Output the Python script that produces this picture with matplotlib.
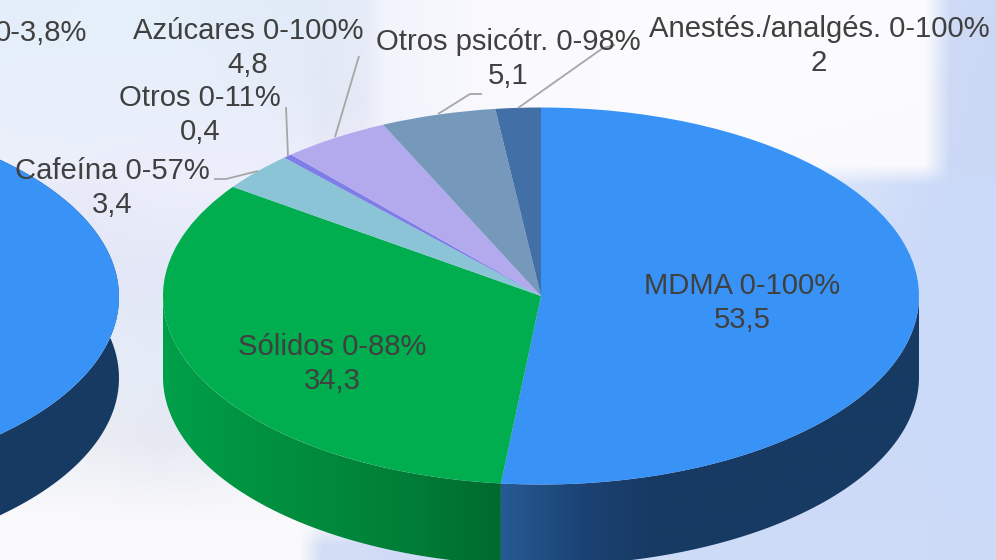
import numpy as np
import matplotlib
matplotlib.use('Agg')
import matplotlib.pyplot as plt
from matplotlib.colors import LinearSegmentedColormap, to_rgb
from matplotlib.patches import Polygon
from matplotlib.transforms import Affine2D

plt.rcParams['font.family'] = ['Liberation Sans', 'DejaVu Sans']

names = ['MDMA', 'Sólidos', 'Cafeína', 'Otros', 'Azúcares', 'Otros psicótr.', 'Anestés./analgés.']
ranges = ['0-100%', '0-88%', '0-57%', '0-11%', '0-100%', '0-98%', '0-100%']
values = [53.5, 34.3, 3.4, 0.4, 4.8, 5.1, 2]
colors = ['#3993f7', '#00ae4f', '#8ac4d6', '#7f7ee8', '#b3aaee', '#7598bb', '#4270a6']
left_values = [100]
left_colors = ['#3993f7']
left_label = '0-3,8%'

# label centres and leader lines, in pixels
label_xy = [(742, 303), (332, 364), (112, 188), (200, 115), (248, 48), (508, 59), (819, 46)]
leaders = [
    [(214, 179), (226, 179), (258, 171)],
    [(286, 107), (288, 156)],
    [(359, 56), (335, 137)],
    [(482, 94), (470, 94), (438, 114)],
    [(615, 45), (603, 48), (518, 108)],
]

# backdrop, colour grid on uneven nodes
bg_x = [0, 80, 160, 300, 322, 365, 385, 500, 700, 925, 950, 996]
bg_y = [0, 100, 165, 185, 280, 360, 440, 520, 545, 560]
bg = [
    'e3eefa e4effa e4effa e1ebf8 e2ecf8 e6ecf8 f2f4fc fafafe fcfcfe fbfcfe d0dcf6 cbd9f5',
    'e8f0fb e8f0fb e8f0fb e6ecf8 e2e8f5 e6eaf6 f2f4fc fafafe fcfcfe fbfbfe ced9f5 c9d8f6',
    'ecf0fb ebeffa eceefb eceefb e8eaf8 ecedf8 f0f2fc f8f8fe fbfbfe fafafd ccd9f5 c9d8f6',
    'eceefb e8eaf8 eceefb eef0fb eef0fb eef0fb f0f2fc f8f8fe f0f4fc cddbf8 cbdaf8 cbdaf8',
    'e8eafa e4e7f6 e2e6f6 e4e8f6 ecf0fa eef0fa e8ecfa e0e8f8 d4dff8 cbdaf8 cbdaf8 cbdaf8',
    'e6ecf8 e6ecf8 e4ecf8 e8f0fa f0f4fa f0f2fa e8ecf8 dce4f8 d0dcf8 cbdaf8 cbdaf8 cbdaf8',
    'eef0f6 eceef4 e6e8f2 eeeff6 f4f5fa f0f2fa e4eaf8 d8e2f8 cfdbf8 cbdaf8 cbdaf8 cbdaf8',
    'fafafc fafafc fafafc fafafc f8f8fb f0f2fa d8e2f6 d0dcf6 cfdbf6 cddbf8 ccdaf8 ccdaf8',
    'fafafc fafafc fafafc fafafc d4dff6 d2ddf6 d0dcf6 cfdbf6 cddbf8 cddbf8 ccdaf8 ccdaf8',
    'fafafc fafafc fafafc fafafc d2ddf6 d2ddf6 d0dcf6 cfdbf6 cddbf8 cddbf8 ccdaf8 ccdaf8',
]
bg_rgb = np.array([[to_rgb('#' + c) for c in row.split()] for row in bg])
px, py = np.arange(996) + .5, np.arange(560) + .5
bg_img = np.empty((560, 996, 3))
for ch in range(3):
    rows = np.array([np.interp(px, bg_x, bg_rgb[i, :, ch]) for i in range(len(bg_y))])
    bg_img[:, :, ch] = np.array([np.interp(py, bg_y, rows[:, j]) for j in range(996)]).T

CX, CY, RX, RY, DEPTH = 541, 296, 378, 188.5, 81
LCX, LCY = -259, 297


def side(ax, x0, y0, t0, t1, stops, xa, xb):
    t = np.linspace(t0, t1, 120)
    xs = x0 + RX * np.sin(t)
    ys = y0 - RY * np.cos(t)
    pts = np.r_[np.c_[xs, ys], np.c_[xs, ys + DEPTH][::-1]]
    cmap = LinearSegmentedColormap.from_list('s', stops)
    im = ax.imshow(np.linspace(0, 1, 256)[None, :], cmap=cmap, aspect='auto',
                   extent=(xa, xb, 600, 0), zorder=1, interpolation='bilinear')
    poly = Polygon(pts, closed=True, transform=ax.transData, fc='none', ec='none')
    ax.add_patch(poly)
    im.set_clip_path(poly)


def top(ax, vals, cols, x0, y0):
    wedges, _ = ax.pie(vals, colors=cols, startangle=90, counterclock=False,
                       wedgeprops=dict(linewidth=0, zorder=2))
    tr = Affine2D().scale(RX, -RY).translate(x0, y0) + ax.transData
    for w in wedges:
        w.set_transform(tr)


fig = plt.figure(figsize=(9.96, 5.6), dpi=100)
ax = fig.add_axes([0, 0, 1, 1])
ax.imshow(bg_img, extent=(0, 996, 560, 0), aspect='auto', interpolation='bilinear', zorder=0)

frac = np.cumsum(values) / np.sum(values) * 2 * np.pi
blue_end, green_end = frac[0], frac[1]
x_split = CX + RX * np.sin(blue_end)
side(ax, CX, CY, np.pi / 2, blue_end, [(0, '#265a94'), (.2, '#1b4273'), (.36, '#173a63'), (1, '#173a63')], x_split, CX + RX)
side(ax, CX, CY, blue_end, 3 * np.pi / 2, ['#00a04a', '#009340', '#00893c', '#007c36', '#006a2e'], CX - RX, x_split)
side(ax, LCX, LCY, 0, np.pi, ['#173a63', '#173a63'], 0, 996)

top(ax, left_values, left_colors, LCX, LCY)
top(ax, values, colors, CX, CY)

for pts in leaders:
    ax.plot(*zip(*pts), color='#a6a6a6', lw=1.3, zorder=3, solid_capstyle='butt')

for name, rng, v, (x, y) in zip(names, ranges, values, label_xy):
    ax.text(x, y, f'{name} {rng}\n' + f'{v:g}'.replace('.', ','), ha='center', va='center',
            fontsize=21.1, color='#404040', linespacing=1.27, zorder=4)
ax.text(87, 33, left_label, ha='right', va='center', fontsize=21.1, color='#404040', zorder=4)

ax.set_xlim(0, 996)
ax.set_ylim(560, 0)
ax.set_aspect('auto')
ax.axis('off')
fig.savefig('out.png', dpi=100)
